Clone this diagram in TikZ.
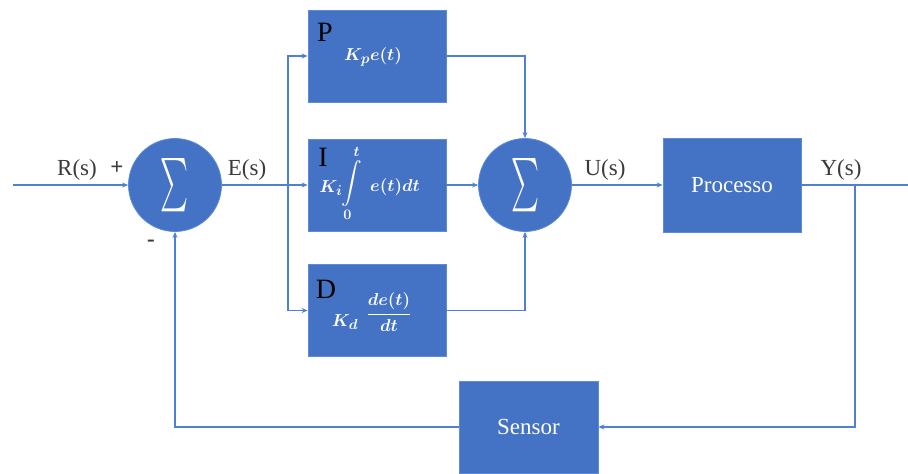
\documentclass[tikz,border=0pt]{standalone}
\usepackage{fontspec}
\setmainfont{Liberation Serif}
\usepackage{amsmath}
\usetikzlibrary{arrows.meta}
\definecolor{boxblue}{HTML}{4472C4}
\definecolor{edgeblue}{HTML}{5B8BD9}
\definecolor{lineblue}{HTML}{5080D2}
\definecolor{labelgray}{HTML}{3A3A3A}
\begin{document}
\begin{tikzpicture}[x=1pt,y=-1pt,
  blk/.style={draw=edgeblue,fill=boxblue,line width=0.8pt,inner sep=0pt,
    minimum width=138pt,minimum height=92pt,text=white,font=\fontsize{23}{26}\selectfont},
  sumc/.style={circle,fill=boxblue,draw=edgeblue,line width=0.8pt,minimum size=93pt,inner sep=0pt,text=white},
  conn/.style={draw=lineblue,line width=1.3pt},
  arr/.style={conn,-{Stealth[length=6pt,width=5pt]}},
  lbl/.style={text=labelgray,font=\fontsize{23}{26}\selectfont,inner sep=0pt},
  big/.style={text=black,font=\fontsize{28}{30}\selectfont,inner sep=0pt},
  mth/.style={text=white,font=\fontsize{19}{21}\selectfont\boldmath,inner sep=0pt}
]
\useasboundingbox (0,0) rectangle (908,474);
% blocks
\node[sumc] (s1) at (175,185) {\resizebox{28pt}{40pt}{$\sum$}};
\node[blk] (P) at (377,56) {};
\node[blk] (I) at (377,185) {};
\node[blk] (D) at (377,310.5) {};
\node[sumc] (s2) at (525,185) {\resizebox{28pt}{40pt}{$\sum$}};
\node[blk,minimum height=94pt] (proc) at (732,185) {Processo};
\node[blk,minimum width=139pt] (sens) at (528.5,427) {Sensor};
% block contents
\node[big] (pl) at (325,32) {P};
\node[mth] (pf) at (373,57) {$K_p e(t)$};
\node[big] (il) at (323,157) {I};
\node[mth] (ik) at (331,188) {$K_i$};
\node[mth,font=\fontsize{21}{23}\selectfont\boldmath] (ii) at (352,183) {$\displaystyle\int\limits_{0}^{t}$};
\node[mth] (ie) at (395,187) {$e(t)dt$};
\node[big] (dl) at (326,289) {D};
\node[mth] (dk) at (345,322) {$K_d$};
\node[mth] (df) at (389,312) {$\dfrac{de(t)}{dt}$};
% labels
\node[lbl] (rl) at (77,170) {R(s)};
\node[lbl] (plus) at (117,168) {\textbf{+}};
\node[lbl] (minus) at (151,243) {\textbf{-}};
\node[lbl] (el) at (247,170) {E(s)};
\node[lbl] (ul) at (605,170) {U(s)};
\node[lbl] (yl) at (841,170) {Y(s)};
% coordinates
\coordinate (in) at (13,185);
\coordinate (br) at (288,185);
\coordinate (out) at (908,185);
\coordinate (tap) at (855,185);
% connectors
\draw[arr] (in) -- (s1.west);
\draw[conn] (s1.east) -- (br);
\draw[arr] (br) -- (I.west);
\draw[arr] (br) |- (P.west);
\draw[arr] (br) |- (D.west);
\draw[arr] (P.east) -| (s2.north);
\draw[arr] (D.east) -| (s2.south);
\draw[arr] (I.east) -- (s2.west);
\draw[arr] (s2.east) -- (proc.west);
\draw[conn] (proc.east) -- (out);
\draw[arr] (tap) |- (sens.east);
\draw[arr] (sens.west) -| (s1.south);
\end{tikzpicture}
\end{document}
